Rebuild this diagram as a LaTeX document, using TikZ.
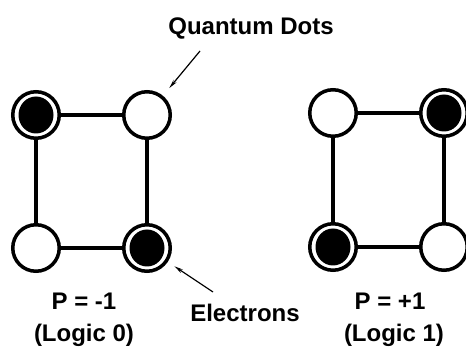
\documentclass[tikz,border=0pt]{standalone}
\usepackage{fontspec}
\setmainfont{Liberation Sans}
\usetikzlibrary{arrows.meta}

\begin{document}
\begin{tikzpicture}[x=1pt, y=-1pt,
    dot/.style={circle, draw, fill=white, line width=3.5pt, minimum size=46.5pt, inner sep=0pt},
    occupied/.style={dot, path picture={\fill[black] (path picture bounding box.center) ellipse (17.5pt and 18.5pt);}},
    wire/.style={line width=4pt},
    pointer/.style={line width=1.2pt, -{Stealth[length=9pt, width=4pt]}},
    txt/.style={font=\fontsize{24}{28}\selectfont\bfseries, inner sep=0pt, anchor=base}]
    \useasboundingbox (0,0) rectangle (466,352);

    % Left cell: P = -1
    \node[occupied] (l1) at (36,115) {};
    \node[dot]      (l2) at (147,115) {};
    \node[dot]      (l3) at (36,248) {};
    \node[occupied] (l4) at (147,248) {};
    \draw[wire] (l1) -- (l2);
    \draw[wire] (l1) -- (l3);
    \draw[wire] (l2) -- (l4);
    \draw[wire] (l3) -- (l4);

    % Right cell: P = +1
    \node[dot]      (r1) at (333,113) {};
    \node[occupied] (r2) at (444,113) {};
    \node[occupied] (r3) at (333,247) {};
    \node[dot]      (r4) at (444,247) {};
    \draw[wire] (r1) -- (r2);
    \draw[wire] (r1) -- (r3);
    \draw[wire] (r2) -- (r4);
    \draw[wire] (r3) -- (r4);

    % Labels
    \node[txt] (qdots) at (251,35) {Quantum Dots};
    \node[txt] (elec) at (245,322) {Electrons};
    \node[txt] (lpol) at (84,310) {P = -1};
    \node[txt] (llog) at (84,342) {(Logic 0)};
    \node[txt] (rpol) at (390,310) {P = +1};
    \node[txt] (rlog) at (394,342) {(Logic 1)};

    % Pointers
    \coordinate (qtail) at (200,51);
    \coordinate (etail) at (213,292);
    \draw[pointer, shorten >=10pt] (qtail) -- (l2);
    \draw[pointer, shorten >=8pt] (etail) -- (l4);
\end{tikzpicture}
\end{document}
